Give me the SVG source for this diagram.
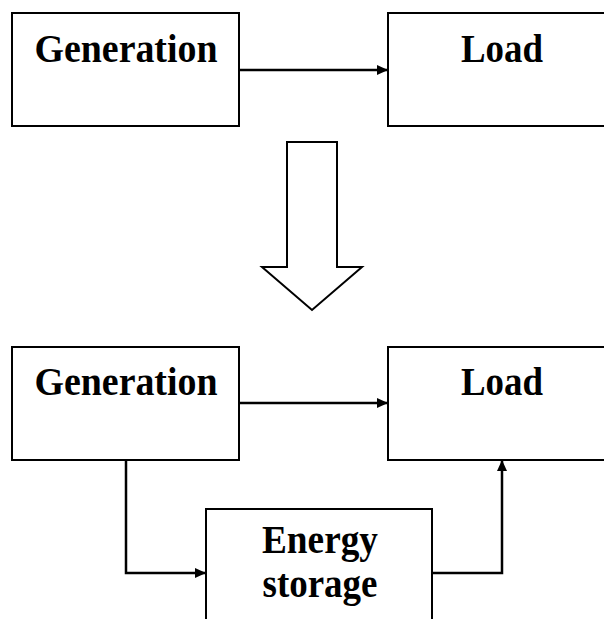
<svg xmlns="http://www.w3.org/2000/svg" width="604" height="619" viewBox="0 0 604 619">
<style>
.box{fill:#fff;stroke:#000;stroke-width:2}
.lbl{font-family:"Liberation Serif","Times New Roman",serif;font-weight:bold;font-size:41px;fill:#000;text-anchor:middle}
.con{fill:none;stroke:#000;stroke-width:2.5}
</style>
<defs>
<marker id="ah" markerWidth="11" markerHeight="10" refX="11" refY="5" orient="auto" markerUnits="userSpaceOnUse">
<path d="M0,0 L11,5 L0,10 Z" fill="#000"/>
</marker>
</defs>
<rect width="604" height="619" fill="#fff"/>
<g id="gen1"><rect class="box" x="12" y="13" width="227" height="113"/><text class="lbl" x="126" y="62" textLength="183" lengthAdjust="spacingAndGlyphs">Generation</text></g>
<g id="load1"><rect class="box" x="388" y="13" width="230" height="113"/><text class="lbl" x="502" y="62" textLength="82" lengthAdjust="spacingAndGlyphs">Load</text></g>
<g id="bigarrow"><polygon class="box" points="287,142 337,142 337,267 362,267 312,310 262,267 287,267"/></g>
<g id="gen2"><rect class="box" x="12" y="347" width="227" height="113"/><text class="lbl" x="126" y="395" textLength="183" lengthAdjust="spacingAndGlyphs">Generation</text></g>
<g id="load2"><rect class="box" x="388" y="347" width="230" height="113"/><text class="lbl" x="502" y="395" textLength="82" lengthAdjust="spacingAndGlyphs">Load</text></g>
<g id="storage"><rect class="box" x="206" y="509" width="226" height="120"/><text class="lbl" x="320" y="553" textLength="116" lengthAdjust="spacingAndGlyphs">Energy</text><text class="lbl" x="320" y="597" textLength="115" lengthAdjust="spacingAndGlyphs">storage</text></g>
<g id="connectors">
<path class="con" d="M239,70 H388" marker-end="url(#ah)"/>
<path class="con" d="M239,403 H388" marker-end="url(#ah)"/>
<path class="con" d="M126,460 V573 H206" marker-end="url(#ah)"/>
<path class="con" d="M432,573 H502 V460" marker-end="url(#ah)"/>
</g>
</svg>
